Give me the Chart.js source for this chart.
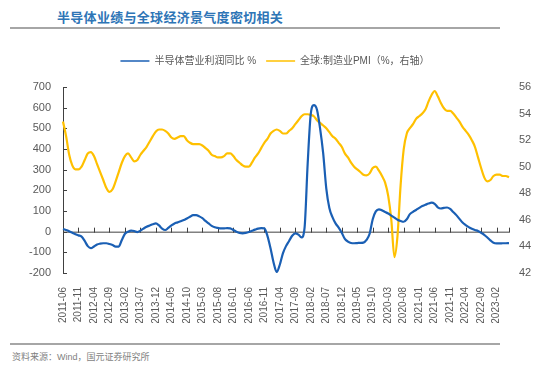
<!DOCTYPE html>
<html>
<head>
<meta charset="utf-8">
<script src="https://cdn.jsdelivr.net/npm/chart.js@4.4.0/dist/chart.umd.min.js"></script>
<style>
    body { margin: 0; background: #fff; width: 550px; height: 370px; overflow: hidden; position: relative; }
    .title { position: absolute; left: 57px; top: 7px; font: bold 13px 'Noto Sans CJK SC', sans-serif; color: #2e75b6; letter-spacing: 0.3px; }
    .rule { position: absolute; left: 10px; width: 490px; height: 2px; background: #a6a6a6; }
    .source { position: absolute; left: 12px; top: 350px; font: 9px 'Liberation Sans', 'Noto Sans CJK SC', sans-serif; color: #7f7f7f; }
    #chart { position: absolute; left: 0; top: 46px; }
</style>
</head>
<body>
<div class="title">半导体业绩与全球经济景气度密切相关</div>
<div class="rule" style="top:27px"></div>
<canvas id="chart" width="550" height="277"></canvas>
<div class="rule" style="top:343px"></div>
<div class="source">资料来源：Wind，国元证券研究所</div>
<script>
// Data (monthly, 2011-06 .. 2023-06)
const startYear = 2011, startMonth = 6, monthCount = 145;
const months = [];
for (let i = 0; i < monthCount; i++) {
    const t = startMonth - 1 + i;
    const y = startYear + Math.floor(t / 12);
    const m = (t % 12) + 1;
    months.push(y + '-' + String(m).padStart(2, '0'));
}

const semiProfitYoY = [
    13, 8, 2, -5, -12, -18, -24, -45, -70, -80,
    -72, -62, -58, -56, -56, -60, -65, -72, -72, -40,
    -10, 0, 5, 3, -2, 5, 15, 24, 30, 36,
    40, 30, 15, 8, 18, 30, 40, 45, 50, 56,
    64, 72, 80, 80, 74, 65, 52, 40, 28, 21,
    18, 16, 16, 17, 16, 8, 0, -6, -8, -6,
    -2, 4, 10, 15, 17, 16, -20, -80, -150, -195,
    -160, -105, -70, -45, -20, -8, -14, -28, 20, 330,
    570, 612, 590, 500, 380, 210, 115, 70, 40, 20,
    -5, -35, -48, -55, -56, -55, -54, -53, -40, -10,
    60, 98, 108, 103, 95, 88, 78, 68, 58, 52,
    48, 60, 85, 96, 105, 115, 124, 130, 136, 141,
    135, 118, 112, 115, 117, 110, 95, 80, 62, 44,
    32, 22, 14, 8, 3, -5, -15, -28, -42, -54,
    -57, -57, -56, -56, -55
];

const globalPMI = [
    53.4, 52.3, 50.9, 50.1, 49.8, 49.8, 50.0, 50.5, 51.0, 51.1,
    50.8, 50.2, 49.6, 49.0, 48.4, 48.1, 48.3, 48.9, 49.6, 50.3,
    50.8, 51.0, 50.7, 50.4, 50.5, 50.9, 51.2, 51.5, 51.9, 52.3,
    52.65, 52.8, 52.8, 52.7, 52.5, 52.2, 52.1, 52.2, 52.3, 52.3,
    52.0, 51.8, 51.7, 51.7, 51.7, 51.6, 51.4, 51.2, 50.9, 50.8,
    50.7, 50.7, 50.8, 51.0, 51.0, 50.8, 50.5, 50.3, 50.1, 50.0,
    50.0, 50.3, 50.7, 51.0, 51.4, 51.8, 52.1, 52.5, 52.7, 52.8,
    52.7, 52.5, 52.5, 52.7, 52.9, 53.2, 53.5, 53.8, 53.95, 53.95,
    53.9, 53.8, 53.5, 53.3, 53.1, 52.9, 52.6, 52.3, 52.1, 51.8,
    51.5, 51.0, 50.7, 50.3, 50.0, 49.8, 49.6, 49.4, 49.35, 49.5,
    49.9, 50.0, 49.7, 49.3, 48.8, 47.8, 46.0, 43.2, 44.8, 48.6,
    51.3, 52.5, 52.9, 53.2, 53.6, 53.8, 54.0, 54.3, 54.9, 55.4,
    55.7, 55.3, 54.8, 54.4, 54.2, 54.2, 54.0, 53.7, 53.4, 53.0,
    52.7, 52.4, 52.0, 51.5, 50.7, 49.9, 49.2, 48.9, 49.0, 49.3,
    49.4, 49.4, 49.3, 49.3, 49.2
];

const labelEvery = 5;
const leftTicks = { min: -200, max: 700, step: 100 };
const rightTicks = { min: 42, max: 56, step: 2 };

Chart.defaults.font.family = "'Liberation Sans', 'Noto Sans CJK SC', sans-serif";
Chart.defaults.color = '#595959';

// zero line with tick marks, inward ticks on the left axis
const axisMarks = {
    id: 'axisMarks',
    beforeDatasetsDraw(chart) {
        const { ctx, chartArea, scales } = chart;
        const y0 = scales.y.getPixelForValue(0);
        ctx.save();
        ctx.strokeStyle = '#404040';
        ctx.lineWidth = 1;
        ctx.beginPath();
        ctx.moveTo(chartArea.left, y0 + 0.5);
        ctx.lineTo(chartArea.right, y0 + 0.5);
        for (let i = labelEvery; i < months.length; i += labelEvery) {
            const x = Math.round(scales.x.getPixelForValue(i)) + 0.5;
            ctx.moveTo(x, y0 - 4);
            ctx.lineTo(x, y0 + 1);
        }
        const xr = Math.round(scales.x.getPixelForValue(months.length - 1)) + 0.5;
        ctx.moveTo(xr, y0 - 4);
        ctx.lineTo(xr, y0 + 1);
        scales.y.ticks.forEach(t => {
            const y = Math.round(scales.y.getPixelForValue(t.value)) + 0.5;
            ctx.moveTo(chartArea.left, y);
            ctx.lineTo(chartArea.left + 4, y);
        });
        ctx.stroke();
        ctx.restore();
    }
};

const legendGap = {
    id: 'legendGap',
    beforeInit(chart) {
        const fit = chart.legend.fit;
        chart.legend.fit = function () {
            fit.bind(chart.legend)();
            this.height += 11;
        };
    }
};

new Chart(document.getElementById('chart'), {
    type: 'line',
    data: {
        labels: months,
        datasets: [{
            label: '半导体营业利润同比 %',
            data: semiProfitYoY,
            borderColor: '#1a5fb4',
            backgroundColor: '#1a5fb4',
            borderWidth: 2.2,
            pointRadius: 0,
            cubicInterpolationMode: 'monotone',
            yAxisID: 'y'
        }, {
            label: '全球:制造业PMI（%，右轴）',
            data: globalPMI,
            borderColor: '#ffc000',
            backgroundColor: '#ffc000',
            borderWidth: 2.2,
            pointRadius: 0,
            cubicInterpolationMode: 'monotone',
            yAxisID: 'y1'
        }]
    },
    options: {
        responsive: false,
        animation: false,
        layout: { padding: { left: 0, right: 0, top: 0, bottom: 0 } },
        plugins: {
            legend: {
                labels: {
                    boxWidth: 29,
                    boxHeight: 1.5,
                    padding: 10,
                    font: { size: 10 },
                    color: '#595959',
                    generateLabels: (chart) => Chart.defaults.plugins.legend.labels.generateLabels(chart)
                        .map(l => ({ ...l, lineWidth: 0 }))
                }
            },
            tooltip: { enabled: false }
        },
        scales: {
            x: {
                offset: false,
                grid: { display: false },
                border: { display: false },
                ticks: {
                    autoSkip: false,
                    minRotation: 90,
                    maxRotation: 90,
                    padding: 6,
                    font: { size: 10 },
                    callback: (v, i) => (i % labelEvery === 0 ? months[i] : '')
                },
                afterFit: s => { s.height = 50; }
            },
            y: {
                position: 'left',
                min: leftTicks.min,
                max: leftTicks.max,
                ticks: { stepSize: leftTicks.step, padding: 12, font: { size: 11 } },
                grid: { display: false, drawTicks: false },
                border: { display: true, color: '#404040', width: 1 },
                afterFit: s => { s.width = 63; }
            },
            y1: {
                position: 'right',
                min: rightTicks.min,
                max: rightTicks.max,
                ticks: { stepSize: rightTicks.step, padding: 10, font: { size: 11 } },
                grid: { display: false, drawTicks: false },
                border: { display: false },
                afterFit: s => { s.width = 41; }
            }
        }
    },
    plugins: [axisMarks, legendGap]
});
</script>
</body>
</html>
